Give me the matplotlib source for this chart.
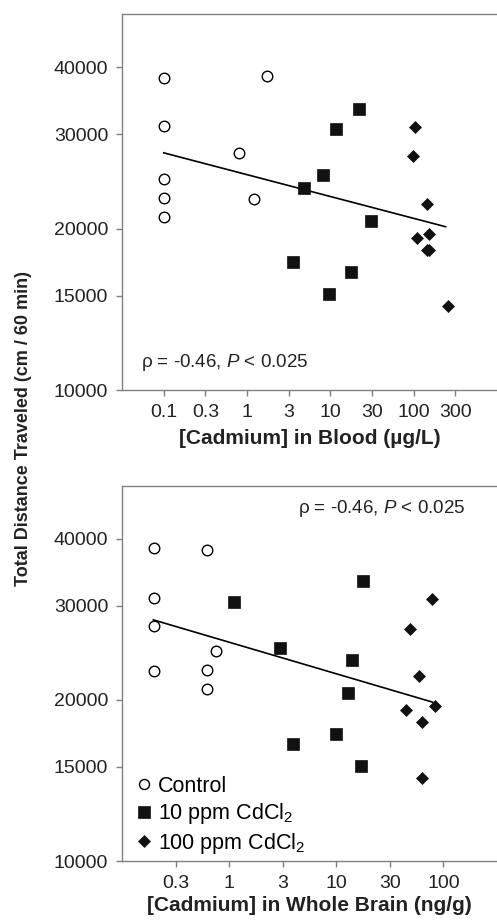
import numpy as np
import matplotlib
matplotlib.use('Agg')
from matplotlib import pyplot as plt

plt.rcParams['font.family'] = ['Liberation Sans', 'DejaVu Sans']
plt.rcParams['mathtext.fontset'] = 'custom'
plt.rcParams['mathtext.rm'] = 'Liberation Sans'
plt.rcParams['mathtext.it'] = 'Liberation Sans:italic'

# --- Blood panel data ---
blood_ctrl_x = [0.1, 0.1, 0.1, 0.1, 0.1, 1.72, 0.81, 1.20]
blood_ctrl_y = [38100, 31100, 24740, 22830, 20980, 38530, 27610, 22670]
blood_10_x = [21.9, 11.6, 8.17, 4.83, 31.0, 3.53, 17.9, 9.55]
blood_10_y = [33440, 30610, 25200, 23760, 20650, 17300, 16620, 15080]
blood_100_x = [104.7, 97.3, 145.9, 152.8, 109.6, 143.3, 153.5, 258]
blood_100_y = [30920, 27260, 22220, 19510, 19230, 18240, 18240, 14360]
blood_fit_x = [0.1, 242]
blood_fit_y = [27690, 20160]
blood_ticks = ['0.1', '0.3', '1', '3', '10', '30', '100', '300']

# --- Whole brain panel data ---
brain_ctrl_x = [0.198, 0.198, 0.198, 0.198, 0.625, 0.753, 0.623, 0.623]
brain_ctrl_y = [38430, 30960, 27500, 22600, 38040, 24660, 22770, 20920]
brain_10_x = [17.8, 1.11, 2.98, 14.0, 12.9, 9.91, 3.94, 16.96]
brain_10_y = [33360, 30480, 25050, 23760, 20630, 17300, 16570, 15040]
brain_100_x = [78.5, 48.3, 59.3, 83.7, 44.3, 63.3, 63.3]
brain_100_y = [30830, 27190, 22120, 19480, 19170, 18180, 14320]
brain_fit_x = [0.196, 79.1]
brain_fit_y = [28220, 19810]
brain_ticks = ['0.3', '1', '3', '10', '30', '100']

y_ticks = [10000, 15000, 20000, 30000, 40000]
groups = ['Control', '10 ppm CdCl$_2$', '100 ppm CdCl$_2$']
stat_text = r'ρ = -0.46, $P$ < 0.025'

spine_col = '#808080'
fig = plt.figure(figsize=(4.97, 9.21), dpi=100)
ax1 = fig.add_axes([0.2455, 0.5765, 0.7545, 0.4083])
ax2 = fig.add_axes([0.2455, 0.0651, 0.7545, 0.4075])


def draw(ax, cx, cy, sx, sy, dx, dy, fx, fy):
    ax.plot(fx, fy, color='black', lw=1.2, zorder=2)
    ax.plot(cx, cy, 'o', ms=7.6, mfc='white', mec='black', mew=1.0,
            ls='none', label=groups[0], zorder=3)
    ax.plot(sx, sy, 's', ms=8.6, mfc='#111111', mec='#111111', mew=0.5,
            ls='none', label=groups[1], zorder=3)
    ax.plot(dx, dy, 'D', ms=5.8, mfc='#111111', mec='#111111', mew=0.5,
            ls='none', label=groups[2], zorder=3)
    ax.set_xscale('log')
    ax.set_yscale('log')
    ax.set_ylim(10000, 50250)
    ax.set_yticks(y_ticks)
    ax.set_yticklabels([str(v) for v in y_ticks])
    ax.minorticks_off()
    ax.spines['right'].set_visible(False)
    for s in ['left', 'bottom', 'top']:
        ax.spines[s].set_color(spine_col)
        ax.spines[s].set_linewidth(1.0)
    ax.tick_params(direction='out', length=4, width=1.0, color=spine_col,
                   labelsize=14, labelcolor='#222222', pad=6)
    ax.tick_params(axis='x', top=False)


draw(ax1, blood_ctrl_x, blood_ctrl_y, blood_10_x, blood_10_y,
     blood_100_x, blood_100_y, blood_fit_x, blood_fit_y)
ax1.set_xlim(10 ** -1.5, 10 ** 3)
ax1.set_xticks(10 ** np.arange(-1, 3, 0.5))
ax1.set_xticklabels(blood_ticks)
ax1.minorticks_off()
ax1.set_xlabel('[Cadmium] in Blood (µg/L)', fontsize=15, fontweight='bold',
               labelpad=6, color='#222222')
ax1.text(0.05, 0.072, stat_text, transform=ax1.transAxes, fontsize=13.5,
         color='#222222', va='center')

draw(ax2, brain_ctrl_x, brain_ctrl_y, brain_10_x, brain_10_y,
     brain_100_x, brain_100_y, brain_fit_x, brain_fit_y)
ax2.set_xlim(10 ** -1, 10 ** 2.5)
ax2.set_xticks(10 ** np.arange(-0.5, 2.5, 0.5))
ax2.set_xticklabels(brain_ticks)
ax2.minorticks_off()
ax2.set_xlabel('[Cadmium] in Whole Brain (ng/g)', fontsize=15,
               fontweight='bold', labelpad=3, color='#222222')
ax2.text(0.47, 0.94, stat_text, transform=ax2.transAxes, fontsize=13.5,
         color='#222222', va='center')
leg = ax2.legend(loc='lower left', bbox_to_anchor=(0.0, -0.02), frameon=False,
                 fontsize=15.5, markerscale=1.0, handlelength=0.8,
                 handletextpad=0.25, labelspacing=0.2, borderaxespad=0.2)
leg.legend_handles[0].set_markersize(7.2)
leg.legend_handles[1].set_markersize(8.0)
leg.legend_handles[2].set_markersize(6.4)

fig.text(24 / 497, 1 - 428 / 921, 'Total Distance Traveled (cm / 60 min)',
         rotation=90, ha='center', va='center', fontsize=13,
         fontweight='bold', color='#222222')

fig.savefig('out.png', dpi=100)
